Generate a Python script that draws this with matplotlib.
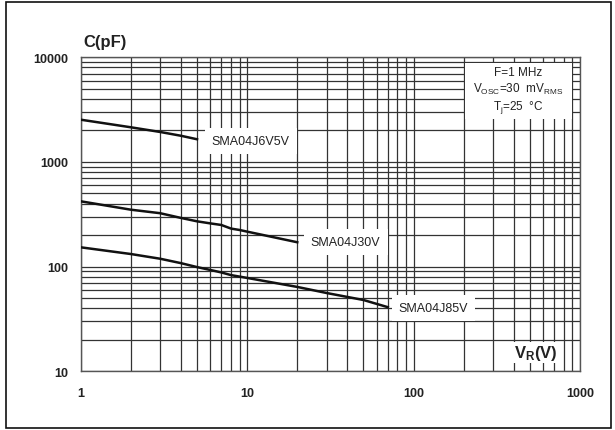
import matplotlib
matplotlib.use("Agg")
import matplotlib.pyplot as plt
from matplotlib.patches import Rectangle
from matplotlib.ticker import FixedLocator, NullFormatter

plt.rcParams['font.family'] = ['Liberation Sans', 'DejaVu Sans']
plt.rcParams['mathtext.fontset'] = 'custom'
plt.rcParams['mathtext.rm'] = 'Liberation Sans'
plt.rcParams['mathtext.bf'] = 'Liberation Sans:bold'
plt.rcParams['mathtext.it'] = 'Liberation Sans:italic'

# capacitance versus reverse voltage, one curve per device
v_6v5 = [1, 2, 3, 4, 5]
c_6v5 = [2535, 2145, 1935, 1780, 1648]

v_30 = [1, 2, 3, 4, 5, 6, 7, 8, 9, 10, 20]
c_30 = [421, 350, 324, 292, 271, 259, 250, 231, 224, 216, 171]

v_85 = [1, 2, 3, 4, 5, 6, 7, 8, 10, 20, 30, 50, 70]
c_85 = [153, 132, 119, 108, 99, 93, 88, 83, 78, 64, 56, 48, 41]

x_ticks = [1, 10, 100, 1000]
y_ticks = [10, 100, 1000, 10000]

fig = plt.figure(figsize=(6.15, 4.31), dpi=100)
ax = fig.add_axes([80.7/615, 1 - 372.3/431, 499.3/615, 314/431])
ax.set_xscale('log')
ax.set_yscale('log')
ax.set_xlim(1, 1000)
ax.set_ylim(10, 10000)

ax.xaxis.set_major_locator(FixedLocator(x_ticks))
ax.yaxis.set_major_locator(FixedLocator(y_ticks))
ax.set_xticklabels([str(t) for t in x_ticks])
ax.set_yticklabels([str(t) for t in y_ticks])
minors = [m * 10**d for d in range(0, 4) for m in range(2, 10)]
ax.xaxis.set_minor_locator(FixedLocator(minors))
ax.yaxis.set_minor_locator(FixedLocator(minors))
ax.xaxis.set_minor_formatter(NullFormatter())
ax.yaxis.set_minor_formatter(NullFormatter())
ax.tick_params(which='both', length=0)
ax.tick_params(axis='x', pad=11.5)
ax.tick_params(axis='y', pad=9)
for lab in ax.get_xticklabels() + ax.get_yticklabels():
    lab.set_fontsize(9)
    lab.set_fontweight('bold')
    lab.set_color('#222222')

ax.set_axisbelow(True)
ax.grid(which='both', color='#333333', linewidth=0.9)
for s in ax.spines.values():
    s.set_color('#555555')
    s.set_linewidth(1.0)

ax.plot(v_6v5, c_6v5, color='#111111', lw=1.8, zorder=3)
ax.plot(v_30, c_30, color='#111111', lw=1.8, zorder=3)
ax.plot(v_85, c_85, color='#111111', lw=1.8, zorder=3)

box = dict(facecolor='white', edgecolor='none', pad=5)
ax.text(0.262, 0.732, 'SMA04J6V5V', transform=ax.transAxes, fontsize=9,
        color='#222222', va='center', bbox=box, zorder=4)
ax.text(0.461, 0.411, 'SMA04J30V', transform=ax.transAxes, fontsize=9,
        color='#222222', va='center', bbox=box, zorder=4)
ax.text(0.637, 0.201, 'SMA04J85V', transform=ax.transAxes, fontsize=9,
        color='#222222', va='center', bbox=box, zorder=4)

# test conditions panel, top right
ax.add_patch(Rectangle((0.770, 0.805), 0.214, 0.177, transform=ax.transAxes,
                       facecolor='white', edgecolor='none', zorder=4))
cond = ['F=1 MHz', r'V$_{\mathrm{OSC}}$=30  mV$_{\mathrm{RMS}}$', r'T$_{\mathrm{j}}$=25  °C']
for txt, yy in zip(cond, [0.952, 0.900, 0.843]):
    ax.text(0.876, yy, txt, transform=ax.transAxes, fontsize=8.5, color='#222222',
            ha='center', va='center', zorder=5)

ax.text(0.868, 0.060, r'$\mathbf{V_R}$(V)', transform=ax.transAxes, fontsize=12,
        fontweight='bold', color='#222222', va='center',
        bbox=dict(facecolor='white', edgecolor='none', pad=1), zorder=4)
fig.text(83/615, 1 - 42.7/431, 'C(pF)', fontsize=12, fontweight='bold',
         color='#222222', va='center')

fig.patches.append(Rectangle((6/615, 2/431), 605/615, 426/431, transform=fig.transFigure,
                             fill=False, edgecolor='#111111', linewidth=1.2))

fig.savefig('out.png', dpi=100)
